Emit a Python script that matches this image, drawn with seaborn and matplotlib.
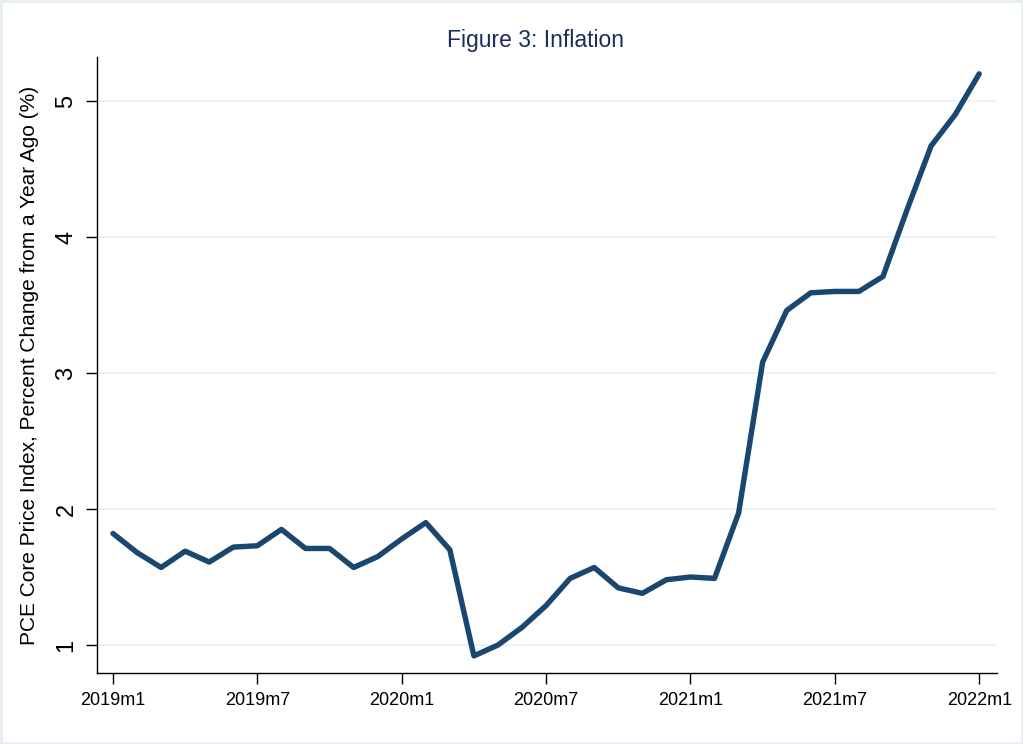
import matplotlib
matplotlib.use("Agg")
import matplotlib.pyplot as plt
import seaborn as sns
import pandas as pd
import numpy as np

# Data: monthly, 2019m1 .. 2022m1
inflation = [1.82, 1.68, 1.57, 1.69, 1.61, 1.72, 1.73, 1.85, 1.71, 1.71, 1.57, 1.65,
             1.78, 1.90, 1.70, 0.92, 1.00, 1.13, 1.29, 1.49, 1.57, 1.42, 1.38, 1.48,
             1.50, 1.49, 1.97, 3.08, 3.46, 3.59, 3.60, 3.60, 3.71, 4.20, 4.67, 4.90, 5.20]
tick_positions = [0, 6, 12, 18, 24, 30, 36]
tick_labels = ["2019m1", "2019m7", "2020m1", "2020m7", "2021m1", "2021m7", "2022m1"]
y_ticks = [1, 2, 3, 4, 5]

df = pd.DataFrame({"month": np.arange(len(inflation)), "value": inflation})

sns.set_style("white")
plt.rcParams['font.family'] = ['Liberation Sans', 'DejaVu Sans']
plt.rcParams['text.color'] = 'black'
plt.rcParams['axes.labelcolor'] = 'black'
plt.rcParams['xtick.color'] = 'black'
plt.rcParams['ytick.color'] = 'black'

fig = plt.figure(figsize=(10.23, 7.44), dpi=100)
fig.patch.set_facecolor("white")
fig.patches.append(matplotlib.patches.Rectangle((0.001, 0.001), 0.998, 0.997, transform=fig.transFigure,
                                                fill=False, edgecolor="#e6eef0", linewidth=2))
ax = fig.add_axes([0.0948, 0.0954, 0.8798, 0.828])

sns.lineplot(data=df, x="month", y="value", ax=ax, color="#1a476f", linewidth=3.9)

ax.set_xlim(-0.665, 36.74)
ax.set_ylim(0.794, 5.324)
ax.set_yticks(y_ticks)
ax.set_yticklabels([str(v) for v in y_ticks], rotation=90, va="center", fontsize=17)
ax.set_xticks(tick_positions)
ax.set_xticklabels(tick_labels, fontsize=13)
for y in y_ticks:
    ax.axhline(y, color="#eaf2f3", linewidth=1.2, zorder=0)

for s in ["top", "right"]:
    ax.spines[s].set_visible(False)
for s in ["left", "bottom"]:
    ax.spines[s].set_color("black")
    ax.spines[s].set_linewidth(1.0)
ax.tick_params(axis="both", which="both", direction="out", length=8, width=1, color="black",
               bottom=True, left=True, labelcolor="black")
ax.tick_params(axis="x", pad=6)
ax.tick_params(axis="y", pad=6)

ax.set_xlabel("")
ax.set_ylabel("PCE Core Price Index, Percent Change from a Year Ago (%)", fontsize=15, labelpad=12, color="black")
fig.text(0.523, 0.945, "Figure 3: Inflation", ha="center", va="center", fontsize=16.5, color="#1a2d5a")

fig.savefig("out.png", dpi=100)
